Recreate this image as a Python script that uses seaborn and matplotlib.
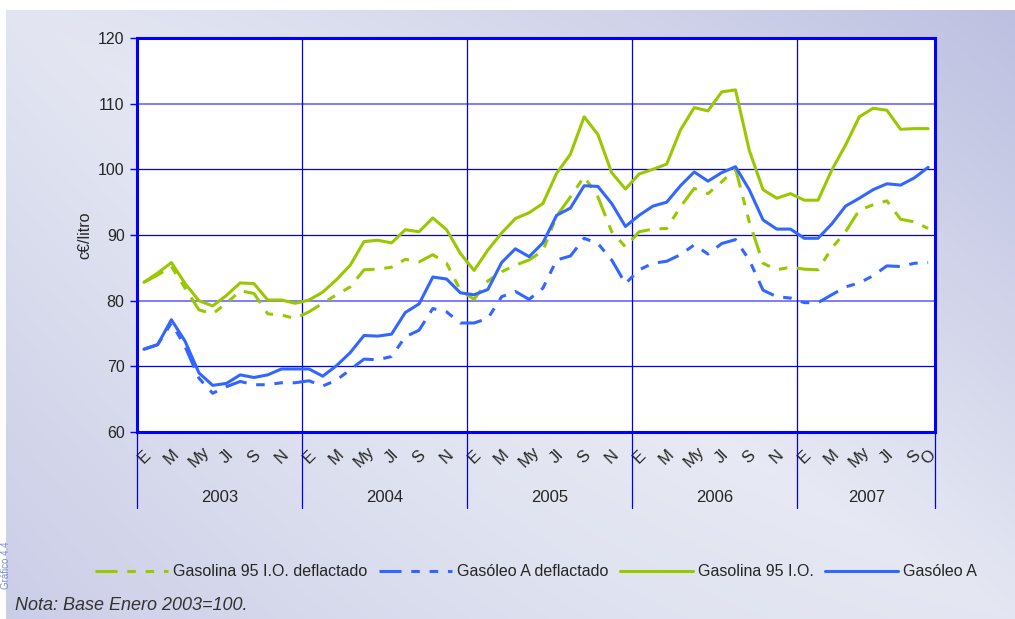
import numpy as np
import pandas as pd
import matplotlib
matplotlib.use("Agg")
import matplotlib.pyplot as plt
import matplotlib.transforms as mtransforms
import seaborn as sns

# Monthly index values, January 2003 to October 2007 (c€/litro)
years = ["2003", "2004", "2005", "2006", "2007"]
month_ticks = ["E", "M", "My", "Jl", "S", "N"]
last_year_ticks = ["E", "M", "My", "Jl", "S", "O"]

gasolina_deflactado = [
    82.8, 83.9, 85.2, 81.9, 78.6, 78.0, 79.6, 81.5, 81.1, 78.0, 77.8, 77.3,
    78.3, 79.6, 80.9, 82.1, 84.7, 84.8, 85.1, 86.3, 85.9, 87.0, 85.7, 81.6,
    80.2, 83.0, 84.4, 85.4, 86.2, 87.6, 92.9, 95.8, 98.9, 95.8, 90.5, 88.2,
    90.5, 90.9, 91.0, 94.3, 97.1, 96.3, 98.1, 100.1, 92.0, 85.7, 84.7, 85.1,
    84.8, 84.7, 88.0, 90.5, 93.8, 94.6, 95.2, 92.4, 92.0, 91.0,
]
gasoleo_deflactado = [
    72.6, 73.3, 76.6, 73.0, 68.2, 65.9, 66.9, 67.7, 67.2, 67.2, 67.5, 67.5,
    67.8, 67.0, 67.9, 69.5, 71.1, 71.0, 71.5, 74.5, 75.5, 78.8, 78.3, 76.6,
    76.6, 77.3, 80.6, 81.4, 80.2, 81.9, 86.2, 86.8, 89.5, 88.7, 86.2, 82.6,
    84.7, 85.7, 86.0, 87.0, 88.5, 87.1, 88.7, 89.3, 86.2, 81.6, 80.6, 80.4,
    79.7, 79.7, 80.9, 82.1, 82.7, 83.8, 85.3, 85.2, 85.7, 85.8,
]
gasolina = [
    82.8, 84.2, 85.8, 82.6, 80.0, 79.2, 80.8, 82.7, 82.6, 80.1, 80.1, 79.6,
    80.1, 81.3, 83.2, 85.4, 89.0, 89.2, 88.8, 90.8, 90.5, 92.6, 90.8, 87.2,
    84.6, 87.7, 90.3, 92.5, 93.4, 94.8, 99.4, 102.3, 108.0, 105.3, 99.5, 97.0,
    99.3, 100.0, 100.8, 106.0, 109.4, 108.9, 111.8, 112.1, 102.9, 96.9, 95.6, 96.3,
    95.3, 95.3, 99.9, 103.7, 108.0, 109.3, 109.0, 106.1, 106.2, 106.2,
]
gasoleo = [
    72.6, 73.3, 77.1, 73.8, 69.0, 67.1, 67.4, 68.7, 68.3, 68.7, 69.6, 69.6,
    69.6, 68.5, 70.1, 72.1, 74.7, 74.6, 74.9, 78.2, 79.5, 83.6, 83.3, 81.2,
    80.9, 81.7, 85.8, 87.9, 86.7, 88.8, 93.0, 94.1, 97.5, 97.4, 94.8, 91.3,
    93.0, 94.4, 95.0, 97.5, 99.6, 98.2, 99.5, 100.4, 96.9, 92.3, 90.9, 90.9,
    89.5, 89.5, 91.7, 94.4, 95.6, 96.9, 97.8, 97.6, 98.7, 100.3,
]

series_names = [
    "Gasolina 95 I.O. deflactado",
    "Gasóleo A deflactado",
    "Gasolina 95 I.O.",
    "Gasóleo A",
]
series_values = [gasolina_deflactado, gasoleo_deflactado, gasolina, gasoleo]

GREEN = "#99c800"
BLUE = "#3366ff"
GRID = "#0000ee"

frames = []
for name, vals in zip(series_names, series_values):
    frames.append(pd.DataFrame({"mes": np.arange(len(vals)), "valor": vals, "serie": name}))
df = pd.concat(frames, ignore_index=True)

sns.set_theme(style="white")
plt.rcParams["font.family"] = ["Liberation Sans", "DejaVu Sans"]

W, H = 1015, 619
fig = plt.figure(figsize=(W / 100, H / 100), dpi=100)

# Lavender background panel with a soft diagonal shading
yy, xx = np.mgrid[0:H, 0:W]
fx = xx / W
fy = 1 - yy / H
s = fx + fy - 1
v = 232 - 40 * np.clip(s, 0, None) - 24 * np.clip(-s, 0, None) - 5 * (np.abs(fx - 0.55) * 2) ** 2
r = v
g = v + 3
b = 0.45 * v + 139.6
img = np.dstack([r, g, b]) / 255.0
img = np.clip(img, 0, 1)
img[:10, :, :] = 1.0
img[:, :6, :] = 1.0
bg = fig.add_axes([0, 0, 1, 1], zorder=0)
bg.imshow(img, extent=[0, 1, 0, 1], aspect="auto", origin="upper")
bg.set_xlim(0, 1)
bg.set_ylim(0, 1)
bg.axis("off")

ax = fig.add_axes([137 / W, 1 - 432 / H, (935 - 137) / W, (432 - 38) / H], zorder=1)
ax.set_facecolor("white")

palette = dict(zip(series_names, [GREEN, BLUE, GREEN, BLUE]))
dash_dot_dot = (7.2, 3.2, 2.8, 3.2, 2.8, 3.2)
dashes = dict(zip(series_names, [dash_dot_dot, dash_dot_dot, "", ""]))

sns.lineplot(
    data=df, x="mes", y="valor", hue="serie", style="serie",
    hue_order=series_names, style_order=series_names,
    palette=palette, dashes=dashes, linewidth=2.2, ax=ax, zorder=3,
)

n = len(gasolina)
ax.set_xlim(-0.5, n - 0.5)
ax.set_ylim(60, 120)
ax.set_yticks(range(60, 121, 10))
ax.set_xlabel("")
ax.set_ylabel("c€/litro", fontsize=11.5, labelpad=4)

# Horizontal grid
for yv in range(70, 120, 10):
    if yv in (80, 110):
        ax.axhline(yv, color="#7272ff", lw=1.3, zorder=1)
    else:
        ax.axhline(yv, color=GRID, lw=0.9, zorder=1)

# Year separators extending below the axis
bounds = [-0.5] + [12 * k - 0.5 for k in range(1, len(years))] + [n - 0.5]
for bx in bounds:
    ax.axvline(bx, ymin=-0.193, ymax=1, clip_on=False, color=GRID, lw=0.9, zorder=1)

for sp in ax.spines.values():
    sp.set_color("#0000ff")
    sp.set_linewidth(2.2)
    sp.set_zorder(4)

# Month tick labels
tick_pos, tick_lab = [], []
for k in range(len(years)):
    base = 12 * k
    if k < len(years) - 1:
        offs = [0, 2, 4, 6, 8, 10]
        labs = month_ticks
    else:
        offs = [0, 2, 4, 6, 8, 9]
        labs = last_year_ticks
    tick_pos += [base + o for o in offs]
    tick_lab += labs
ax.set_xticks(tick_pos)
ax.set_xticklabels(tick_lab, rotation=45, ha="center", va="center", fontsize=12)
ax.tick_params(axis="x", length=0, pad=18)
ax.tick_params(axis="y", direction="out", length=5, width=1, color="#0000ff",
               labelsize=11.5, pad=4, left=True)

trans = mtransforms.blended_transform_factory(ax.transData, ax.transAxes)
for k, yr in enumerate(years):
    center = (bounds[k] + bounds[k + 1]) / 2
    ax.text(center, -0.165, yr, transform=trans, ha="center", va="center", fontsize=12)

handles, labels = ax.get_legend_handles_labels()
if ax.get_legend() is not None:
    ax.get_legend().remove()
leg = fig.legend(handles, labels, loc="center", bbox_to_anchor=(536 / W, 1 - 572 / H),
                 ncol=4, frameon=False, fontsize=11.5, handlelength=4.6,
                 handletextpad=0.3, columnspacing=0.7)
for h in leg.legend_handles:
    h.set_linewidth(2.2)

fig.text(15 / W, 1 - 606 / H, "Nota: Base Enero 2003=100.", style="italic",
         fontsize=13, color="#333333", va="center", ha="left")
fig.text(1 / W, 1 - 565 / H, "Gráfico 4.4", rotation=90, ha="left", va="center",
         fontsize=7, color="#7f8fd0")

fig.savefig("out.png", dpi=100)
